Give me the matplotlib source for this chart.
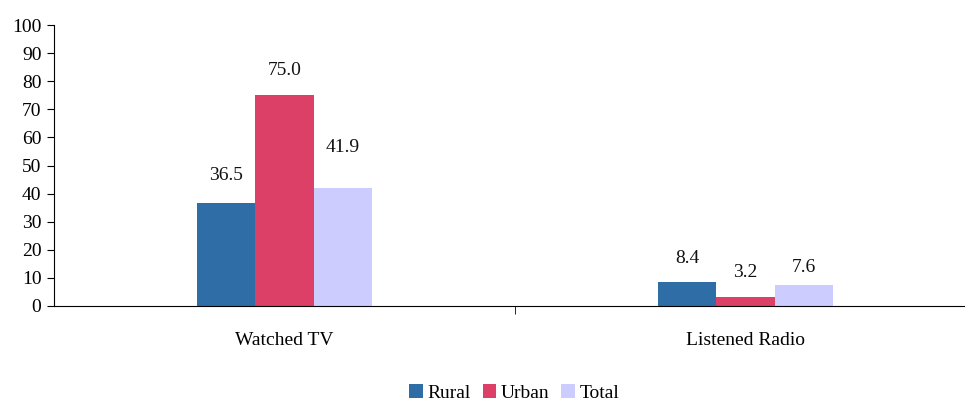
import numpy as np
import matplotlib
matplotlib.use("Agg")
import matplotlib.pyplot as plt

# data
categories = ["Watched TV", "Listened Radio"]
rural = [36.5, 8.4]
urban = [75.0, 3.2]
total = [41.9, 7.6]
series_names = ["Rural", "Urban", "Total"]
colors = ["#2E6DA6", "#DD4067", "#CCCCFF"]

# label offsets above the bar top (points), like the original
label_offsets = [[20, 17], [18, 18], [29, 12]]

plt.rcParams["font.family"] = ["Liberation Serif", "DejaVu Serif"]
fs = 14

fig = plt.figure(figsize=(9.65, 4.03), dpi=100)
ax = fig.add_axes([54 / 965, 97 / 403, 922 / 965, 281 / 403])

x = np.arange(len(categories))
width = 0.126
for i, (vals, name, c) in enumerate(zip([rural, urban, total], series_names, colors)):
    pos = x + (i - 1) * width
    ax.bar(pos, vals, width, color=c, label=name)
    for px, v, off in zip(pos, vals, label_offsets[i]):
        ax.annotate("%.1f" % v, (px, v), xytext=(0, off), textcoords="offset points",
                    ha="center", va="center", fontsize=fs, color="#111111")

ax.set_xlim(-0.5, 1.5)
ax.set_ylim(0, 100)
ax.set_yticks(np.arange(0, 101, 10))
ax.set_xticks(x)
ax.set_xticklabels(categories)
ax.set_xticks([0.5], minor=True)
ax.tick_params(axis="x", which="major", length=0, pad=19, labelsize=fs)
ax.tick_params(axis="x", which="minor", length=6, direction="out")
ax.tick_params(axis="y", length=5, direction="out", pad=4, labelsize=fs)
for s in ["top", "right"]:
    ax.spines[s].set_visible(False)

fig.legend(loc="lower center", bbox_to_anchor=(0.533, -0.04), ncol=3, frameon=False,
           fontsize=fs, handlelength=0.7, handleheight=0.7, handletextpad=0.25,
           columnspacing=0.6)

fig.savefig("out.png", dpi=100)
